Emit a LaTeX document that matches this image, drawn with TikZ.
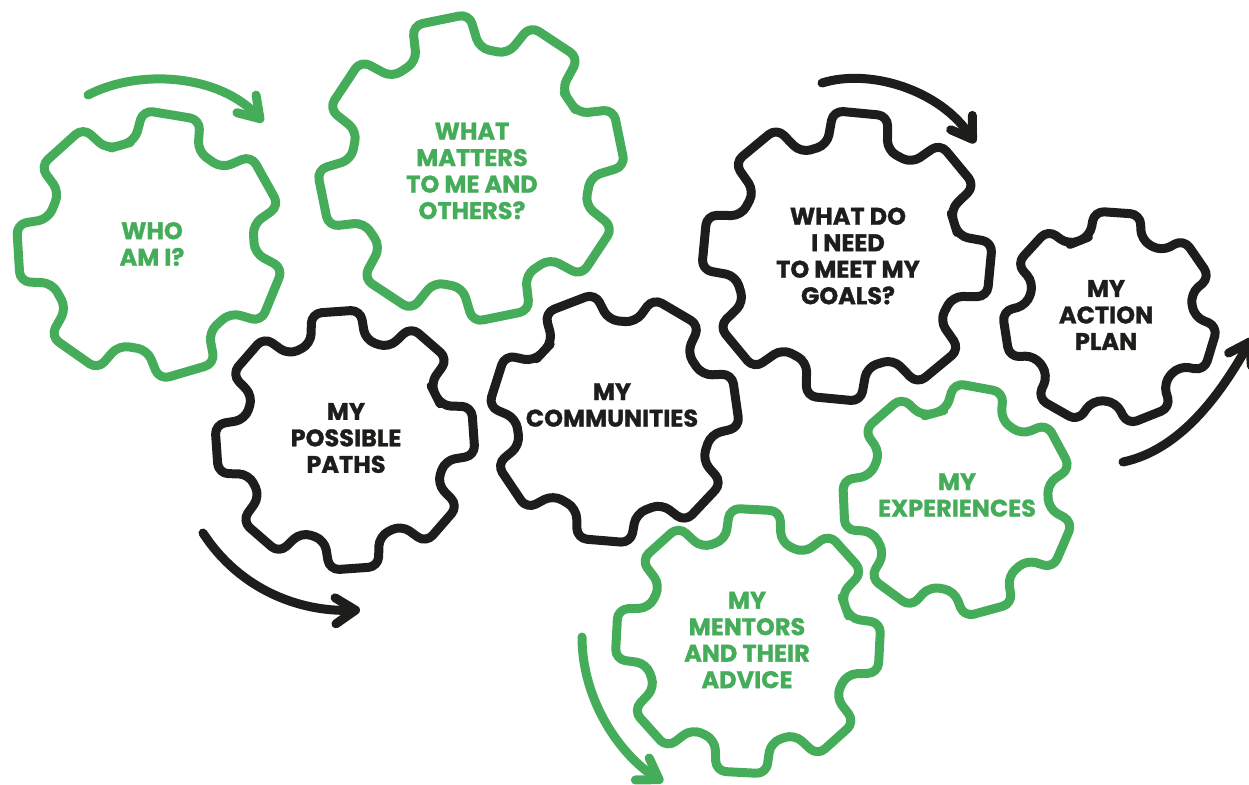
\documentclass[tikz,border=0pt]{standalone}
\usepackage{fontspec}
\newfontfamily\labfont{Poppins}[BoldFeatures={FakeBold=1.2}]
\usetikzlibrary{arrows.meta}
\definecolor{gg}{HTML}{45AD5A}
\definecolor{gk}{HTML}{1D1D1B}
\tikzset{
  gearline/.style={line width=9pt, rounded corners=10pt, line join=round},
  greengear/.style={gearline, draw=gg},
  blackgear/.style={gearline, draw=gk},
  lab/.style={font=\labfont\bfseries\fontsize{24}{26.5}\selectfont, align=center, inner sep=0pt},
  greenlab/.style={lab, text=gg},
  blacklab/.style={lab, text=gk},
  turn/.style={line width=9pt, line cap=round, -{Straight Barb[length=20pt,width=26pt,round]}},
}
\newcommand\drawgear[7]{%
  \pgfmathsetmacro\gP{360/#5}%
  \pgfmathsetmacro\gT{0.24*\gP}%
  \pgfmathsetmacro\gB{0.345*\gP}%
  \pgfmathsetmacro\gS{#6-0.5*\gP}%
  \pgfmathsetmacro\gM{#4*cos(0.5*\gP-\gB)}%
  \draw[#7] ([shift={(#1,#2)}]\gS:\gM)
    \foreach \k [evaluate=\k as \ga using #6+(\k-1)*\gP] in {1,...,#5}{
      -- ([shift={(#1,#2)}]\ga-\gB:#4)
      -- ([shift={(#1,#2)}]\ga-\gT:#3)
      -- ([shift={(#1,#2)}]\ga+\gT:#3)
      -- ([shift={(#1,#2)}]\ga+\gB:#4)
    } -- cycle;
}
\begin{document}
\begin{tikzpicture}[x=1pt,y=-1pt]
\useasboundingbox (0,0) rectangle (1249,784);
\clip (0,0) rectangle (1249,784);
% gears
\drawgear{150}{245}{135}{105}{7}{-80.6}{greengear}
\drawgear{471}{168}{154}{120}{8}{-11.5}{greengear}
\drawgear{345}{440}{131}{102}{8}{-4}{blackgear}
\drawgear{614}{418}{126}{98}{7}{-111}{blackgear}
\drawgear{847}{256}{146}{113}{8}{5.4}{blackgear}
\drawgear{1110}{318}{108}{84}{7}{-86}{blackgear}
\drawgear{958}{500}{117}{91}{7}{-79.6}{greengear}
\drawgear{748}{641}{134}{104}{8}{3}{greengear}
% labels
\node[greenlab] (who) at (152,244) {WHO\\AM I?};
\node[greenlab] (matters) at (472,171) {WHAT\\MATTERS\\TO ME AND\\OTHERS?};
\node[blacklab] (paths) at (346,438) {MY\\POSSIBLE\\PATHS};
\node[blacklab] (comm) at (612,405) {MY\\COMMUNITIES};
\node[blacklab] (need) at (848,256) {WHAT DO\\I NEED\\TO MEET MY\\GOALS?};
\node[blacklab] (plan) at (1106,315) {MY\\ACTION\\PLAN};
\node[greenlab] (exp) at (957,495) {MY\\EXPERIENCES};
\node[greenlab] (ment) at (747,640) {MY\\MENTORS\\AND THEIR\\ADVICE};
% arrows
\coordinate (a1s) at (88,95);   \coordinate (a1e) at (263,122);
\coordinate (a2s) at (822,83);  \coordinate (a2e) at (975,143);
\coordinate (a3s) at (1123,462);\coordinate (a3e) at (1252,338);
\coordinate (a4s) at (203,533); \coordinate (a4e) at (360,610);
\coordinate (a5s) at (582,637); \coordinate (a5e) at (663,782);
\draw[turn, draw=gg] (a1s) .. controls (140,68) and (220,75) .. (a1e);
\draw[turn, draw=gk] (a2s) .. controls (870,68) and (940,90) .. (a2e);
\draw[turn, draw=gk] (a3s) .. controls (1180,450) and (1220,395) .. (a3e);
\draw[turn, draw=gk] (a4s) .. controls (240,590) and (300,612) .. (a4e);
\draw[turn, draw=gg] (a5s) .. controls (582,700) and (620,755) .. (a5e);
\end{tikzpicture}
\end{document}
